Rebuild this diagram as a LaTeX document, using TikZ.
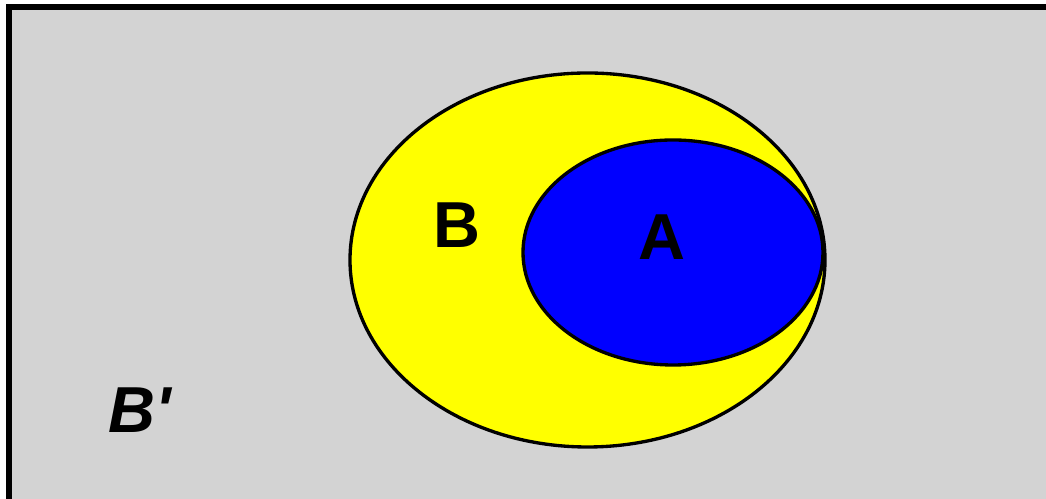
\documentclass[tikz,border=0pt]{standalone}
\usepackage{fontspec}
\setmainfont{Liberation Sans}
\usepackage{xcolor}
\usetikzlibrary{positioning}
\definecolor{venngray}{HTML}{D3D3D3}
\definecolor{vennyellow}{HTML}{FFFF00}
\definecolor{vennblue}{HTML}{0000FF}

\begin{document}
\begin{tikzpicture}[
  x=0.02cm, y=0.02cm,
  setline/.style={draw=black, line width=1.9pt},
  lbl/.style={font=\fontsize{37}{40}\selectfont\bfseries, inner sep=0pt}
]
\useasboundingbox (0,0) rectangle (1046,499);
% universe
\draw[fill=venngray, line width=3.4pt] (9,492) rectangle (1060,-10);
% the two sets
\draw[setline, fill=vennyellow] (587.5,239) ellipse [x radius=237.5, y radius=187];
\draw[setline, fill=vennblue] (673,246.5) ellipse [x radius=150, y radius=112.5];
% labels
\node[lbl] (setB) at (457,274) {B};
\node[lbl] (setA) at (662,262) {A};
\node[lbl, font=\fontsize{37}{40}\selectfont\bfseries\itshape] (compB) at (140,89) {B\textquotesingle};
\end{tikzpicture}
\end{document}
